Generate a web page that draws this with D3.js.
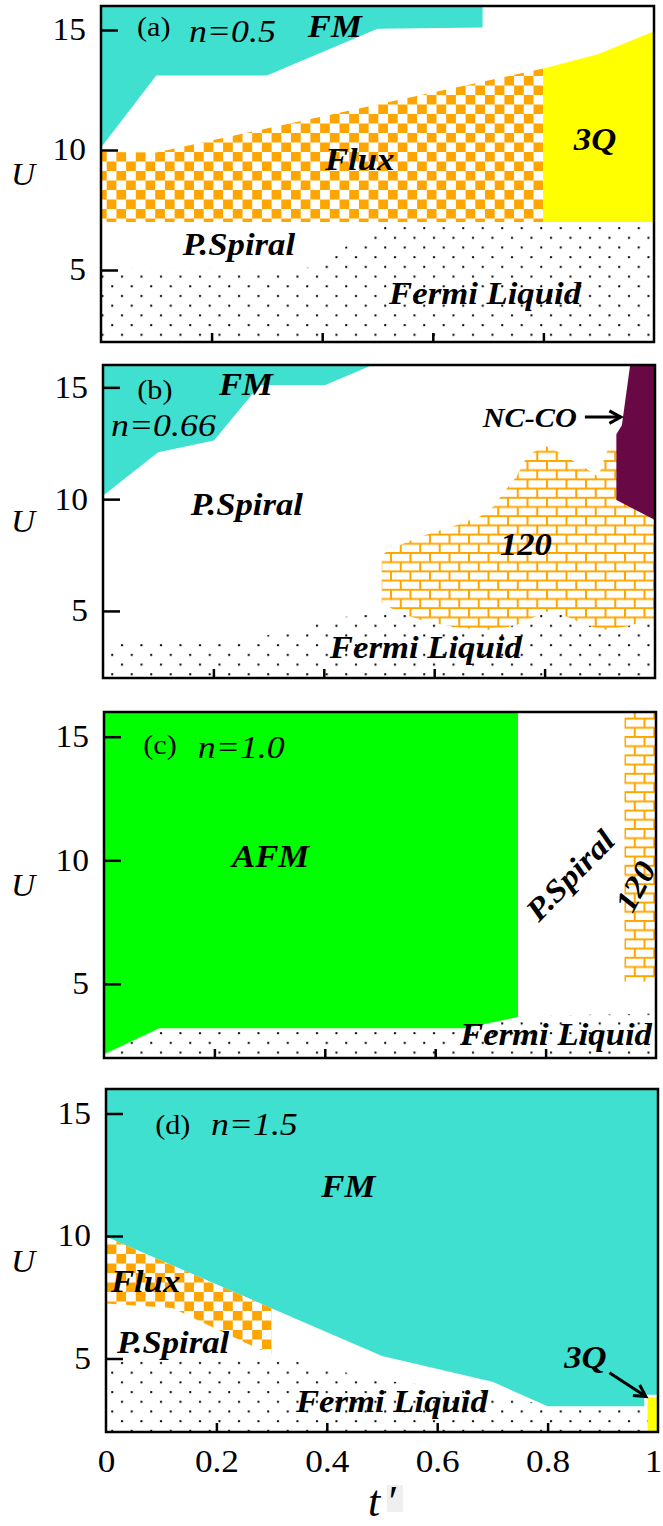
<!DOCTYPE html>
<html>
<head>
<meta charset="utf-8">
<script src="https://cdn.jsdelivr.net/npm/d3@7"></script>
<style>
  body { margin: 0; background: #fff; }
  svg { display: block; font-family: "Liberation Serif", "Times New Roman", serif; }
</style>
</head>
<body>
<svg id="chart" width="663" height="1526"></svg>
<script>
// phase diagrams U vs t' for four fillings

const xTicks = [0.2, 0.4, 0.6, 0.8];
const xTickLabels = [0, 0.2, 0.4, 0.6, 0.8, 1];
const yTicks = [5, 10, 15];

// region outlines as [t', U]
const aFM = [[0, 16], [0.69, 16], [0.69, 15.1], [0.5, 15.05], [0.3, 13.1], [0.1, 13.1], [0, 10.1]];
const aFlux = [[0, 9.92], [0.1, 9.9], [0.8, 13.4], [0.8, 7.0], [0, 7.0]];
const a3Q = [[0.8, 13.4], [0.9, 14.0], [1, 14.95], [1, 7.0], [0.8, 7.0]];
const aFermi = [[0, 2], [0, 5.05], [0.37, 5.05], [0.5, 6.7], [0.53, 7.0], [1, 7.0], [1, 2]];

const bFM = [[0, 16], [0.488, 16], [0.403, 15.1], [0.284, 15.1], [0.201, 12.62], [0.1, 12.1], [0, 10.15]];
const bNCCO = [[0.955, 16], [1, 16], [1, 9.07], [0.93, 9.96], [0.93, 12.9], [0.94, 13.3]];
const b120 = [[0.505, 7.5], [0.525, 7.82], [0.574, 8.32], [0.641, 8.84], [0.683, 9.22], [0.707, 9.66],
  [0.725, 10.26], [0.749, 11.0], [0.768, 11.9], [0.798, 12.42], [0.828, 12.06], [0.858, 11.62],
  [0.888, 11.17], [0.897, 11.0], [0.912, 12.06], [0.918, 12.42], [0.935, 12.42], [0.935, 9.96],
  [1, 9.07], [1, 4.68], [0.991, 4.6], [0.949, 4.3], [0.906, 4.15], [0.876, 4.37], [0.833, 4.82],
  [0.804, 4.97], [0.749, 4.37], [0.707, 4.15], [0.647, 4.24], [0.586, 4.52], [0.538, 4.91], [0.505, 5.36]];
const bFermi = [[0, 2], [0, 3.8], [0.28, 3.8], [0.38, 4.4], [0.48, 4.95], [1, 4.95], [1, 2]];

const cAFM = [[0, 16], [0.75, 16], [0.75, 3.66], [0.652, 3.2], [0.1, 3.2], [0, 2.15]];
const c120 = [[0.943, 16], [1, 16], [1, 5.1], [0.943, 5.1]];
const cFermi = [[0, 2], [0, 3.2], [0.652, 3.2], [0.75, 3.7], [1, 3.8], [1, 2]];

const dFM = [[0, 16], [1, 16], [1, 3.52], [0.975, 3.52], [0.975, 3.05], [0.8, 3.05], [0.7, 4.05], [0.5, 5.1], [0, 9.97]];
const dFlux = [[0, 9.97], [0.3, 7.05], [0.3, 5.14], [0.12, 7.06], [0, 7.25]];
const d3Q = [[0.981, 2], [0.981, 3.42], [1, 3.42], [1, 2]];
const dFermi = [[0, 2], [0, 5.05], [0.31, 5.05], [0.42, 4.5], [0.5, 4.1], [0.7, 3.65], [0.76, 3.3], [0.8, 3.0], [1, 3.0], [1, 2]];

// labels: text, t', U (left / baseline unless rotated)
const aLabels = [['(a)', 0.065, 14.75, 'tag'], ['n=0.5', 0.159, 14.5, 'n'], ['FM', 0.374, 14.69, 'ph'],
  ['3Q', 0.855, 9.98, 'ph'], ['Flux', 0.405, 9.15, 'ph'], ['P.Spiral', 0.148, 5.63, 'ph'], ['Fermi Liquid', 0.521, 3.58, 'ph']];
const bLabels = [['(b)', 0.062, 14.48, 'tag'], ['FM', 0.21, 14.66, 'ph'], ['n=0.66', 0.0145, 12.82, 'n'],
  ['P.Spiral', 0.159, 9.29, 'ph'], ['NC-CO', 0.688, 13.24, 'small'], ['120', 0.719, 7.5, 'ph'], ['Fermi Liquid', 0.411, 2.9, 'ph']];
const cLabels = [['(c)', 0.071, 14.3, 'tag'], ['n=1.0', 0.17, 14.14, 'n'], ['AFM', 0.232, 9.74, 'ph'],
  ['P.Spiral', 0.844, 9.4, 'ph', -46], ['120', 0.962, 8.95, 'ph', -62], ['Fermi Liquid', 0.645, 2.52, 'ph']];
const dLabels = [['(d)', 0.089, 14.16, 'tag'], ['n=1.5', 0.19, 14.12, 'n'], ['FM', 0.39, 11.6, 'ph'],
  ['Flux', 0.009, 7.73, 'ph'], ['P.Spiral', 0.02, 5.22, 'ph'], ['3Q', 0.83, 4.61, 'ph'], ['Fermi Liquid', 0.344, 2.83, 'ph']];

// arrows: from [t', U] to [t', U]
const bArrows = [[[0.873, 13.67], [0.938, 13.67]]];
const dArrows = [[[0.912, 4.42], [0.978, 3.45]]];

const ORANGE = '#ffa500';
const SERIF = '"Liberation Serif", "Times New Roman", serif';
const panels = [
  { box: [101, 6, 654, 342], labels: aLabels, arrows: [],
    regions: [[aFermi, 'url(#dots)'], [aFM, '#40e0d0'], [aFlux, 'url(#checker)'], [a3Q, '#ffff00']] },
  { box: [103, 365, 655, 678], labels: bLabels, arrows: bArrows,
    regions: [[bFermi, 'url(#dots)'], [bFM, '#40e0d0'], [b120, 'url(#bricks)'], [bNCCO, '#680845']] },
  { box: [104, 712, 656, 1058], labels: cLabels, arrows: [],
    regions: [[cFermi, 'url(#dots)'], [cAFM, '#00ff00'], [c120, 'url(#bricks)']] },
  { box: [106, 1089, 658, 1432], labels: dLabels, arrows: dArrows, bottom: true,
    regions: [[dFermi, 'url(#dots)'], [dFM, '#40e0d0'], [dFlux, 'url(#checker)'], [d3Q, '#ffff00']] }
];

const svg = d3.select('#chart');
const defs = svg.append('defs');

// dotted pattern (Fermi liquid)
const pd = defs.append('pattern').attr('id', 'dots').attr('patternUnits', 'userSpaceOnUse')
  .attr('width', 19.5).attr('height', 19.4);
pd.append('rect').attr('width', 19.5).attr('height', 19.4).attr('fill', '#fff');
pd.append('rect').attr('x', 4).attr('y', 4).attr('width', 2).attr('height', 2).attr('fill', '#000');
pd.append('rect').attr('x', 13.75).attr('y', 13.7).attr('width', 2).attr('height', 2).attr('fill', '#000');

// checkerboard (flux)
const pc = defs.append('pattern').attr('id', 'checker').attr('patternUnits', 'userSpaceOnUse')
  .attr('width', 19.4).attr('height', 19);
pc.append('rect').attr('width', 19.4).attr('height', 19).attr('fill', '#fff');
pc.append('rect').attr('width', 9.7).attr('height', 9.5).attr('fill', ORANGE);
pc.append('rect').attr('x', 9.7).attr('y', 9.5).attr('width', 9.7).attr('height', 9.5).attr('fill', ORANGE);

// bricks (120)
const pb = defs.append('pattern').attr('id', 'bricks').attr('patternUnits', 'userSpaceOnUse')
  .attr('width', 19.5).attr('height', 18.4);
pb.append('rect').attr('width', 19.5).attr('height', 18.4).attr('fill', '#fff');
pb.append('path')
  .attr('d', 'M0,1H19.5M0,10.2H19.5M1,1V10.2M10.75,10.2V19.4M10.75,-8V1')
  .attr('stroke', ORANGE).attr('stroke-width', 2).attr('fill', 'none');

const STRETCH = 1.12;

function addText(g, str, x, y, kind, rot) {
  const styles = {
    tag: { size: 27, style: 'normal', weight: 'normal' },
    n: { size: 32, style: 'italic', weight: 'normal' },
    ph: { size: 31, style: 'italic', weight: 'bold' },
    small: { size: 27, style: 'italic', weight: 'bold' }
  };
  const s = styles[kind];
  const t = g.append('text')
    .attr('transform', `translate(${x},${y}) rotate(${rot || 0}) scale(${STRETCH},1)`)
    .attr('font-size', s.size)
    .attr('font-style', s.style)
    .attr('font-weight', s.weight)
    .attr('fill', '#000')
    .text(str);
  if (rot) t.attr('text-anchor', 'middle').attr('dy', '0.35em');
  return t;
}

panels.forEach(p => {
  const [x0, y0, x1, y1] = p.box;
  const x = d3.scaleLinear().domain([0, 1]).range([x0, x1]);
  const y = d3.scaleLinear().domain([2, 16]).range([y1, y0]);
  const g = svg.append('g');

  const clipId = 'clip' + y0;
  defs.append('clipPath').attr('id', clipId)
    .append('rect').attr('x', x0).attr('y', y0).attr('width', x1 - x0).attr('height', y1 - y0);

  const area = d3.line().x(d => x(d[0])).y(d => y(d[1]));
  const rg = g.append('g').attr('clip-path', `url(#${clipId})`);
  p.regions.forEach(([pts, fill]) => {
    rg.append('path').attr('d', area(pts) + 'Z').attr('fill', fill);
  });

  // ticks pointing inward
  const yAxis = g.append('g').attr('transform', `translate(${x0},0)`)
    .call(d3.axisLeft(y).tickValues(yTicks).tickSizeInner(-17).tickSizeOuter(0).tickPadding(15));
  yAxis.attr('font-family', null).attr('font-size', null);
  yAxis.select('.domain').remove();
  yAxis.selectAll('line').attr('stroke', '#000').attr('stroke-width', 2.5);
  yAxis.selectAll('text').attr('fill', '#000').attr('x', -14)
    .attr('transform', 'scale(1.08,1)')
    .style('font-family', SERIF).style('font-size', '31px');

  const xAxis = g.append('g').attr('transform', `translate(0,${y1})`)
    .call(d3.axisBottom(x).tickValues(xTicks).tickFormat('').tickSizeInner(-9).tickSizeOuter(0));
  xAxis.select('.domain').remove();
  xAxis.selectAll('line').attr('stroke', '#000').attr('stroke-width', 2.5);

  if (p.bottom) {
    const xl = g.append('g').attr('transform', `translate(0,${y1})`)
      .call(d3.axisBottom(x).tickValues(xTickLabels).tickFormat(d3.format('')).tickSize(0).tickPadding(17));
    xl.attr('font-family', null).attr('font-size', null);
    xl.select('.domain').remove();
    xl.selectAll('text').attr('fill', '#000').attr('transform', 'scale(1.1,1)')
      .style('font-family', SERIF).style('font-size', '32px');
    // keep the last label inside the page
    xl.selectAll('text').filter(d => d === 1).attr('text-anchor', 'end').attr('x', 3.5);
  }

  // frame
  g.append('rect').attr('x', x0).attr('y', y0).attr('width', x1 - x0).attr('height', y1 - y0)
    .attr('fill', 'none').attr('stroke', '#000').attr('stroke-width', 2.5);

  // axis title U
  g.append('text').attr('font-size', 31).attr('font-style', 'italic')
    .attr('transform', `translate(11,${y(8.55)}) scale(1.08,1)`)
    .text('U');

  p.labels.forEach(l => addText(g, l[0], x(l[1]), y(l[2]), l[3], l[4]));

  p.arrows.forEach(([a, b]) => {
    const ax = x(a[0]), ay = y(a[1]), bx = x(b[0]), by = y(b[1]);
    const ang = Math.atan2(by - ay, bx - ax);
    const h = 13, w = 0.5;
    g.append('line').attr('x1', ax).attr('y1', ay).attr('x2', bx).attr('y2', by)
      .attr('stroke', '#000').attr('stroke-width', 3);
    g.append('path')
      .attr('d', `M${bx - h * Math.cos(ang - w)},${by - h * Math.sin(ang - w)}L${bx},${by}L${bx - h * Math.cos(ang + w)},${by - h * Math.sin(ang + w)}`)
      .attr('stroke', '#000').attr('stroke-width', 3).attr('fill', 'none');
  });
});

// x axis title t'
svg.append('rect').attr('x', 387).attr('y', 1485).attr('width', 16).attr('height', 27).attr('fill', '#efefef');
svg.append('text').attr('x', 368).attr('y', 1516).attr('font-size', 44).attr('font-style', 'italic').text('t');
svg.append('text').attr('x', 386).attr('y', 1516).attr('font-size', 44).attr('font-style', 'italic').text('\u2032');
</script>
</body>
</html>
